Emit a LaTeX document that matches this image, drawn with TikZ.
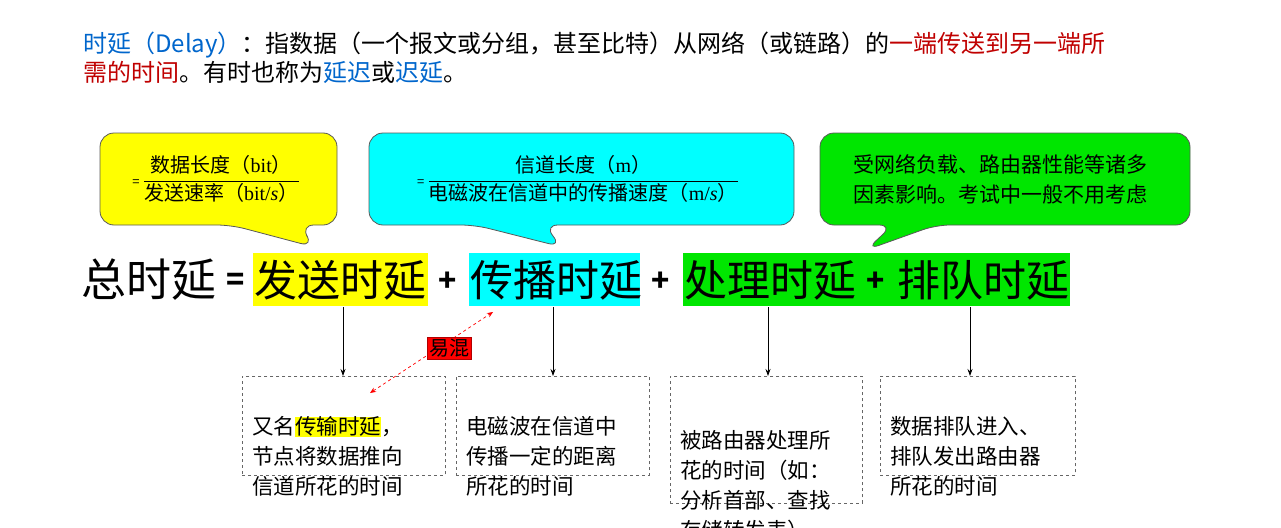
\documentclass[tikz,border=0pt]{standalone}
\usepackage{fontspec}
\setmainfont{Noto Sans CJK SC}
\newfontfamily\serifc{Liberation Serif}
\usetikzlibrary{arrows.meta}
\definecolor{tblue}{RGB}{0,102,204}
\definecolor{tred}{RGB}{192,0,0}
\definecolor{cyanb}{RGB}{0,255,255}
\definecolor{greenb}{RGB}{0,230,0}
\definecolor{yellowb}{RGB}{255,255,0}
\begin{document}
\begin{tikzpicture}[x=1pt,y=-1pt,
  callout/.style={draw=gray!70!black, line width=0.8pt, rounded corners=14pt},
  big/.style={font=\fontsize{43}{46}\selectfont, inner sep=0pt, anchor=west},
  op/.style={font=\fontsize{30}{34}\selectfont\bfseries, inner sep=0pt},
  desc/.style={draw=gray!80!black, dashed, line width=0.7pt, align=left, anchor=north west, font=\fontsize{21.5}{30}\selectfont, inner xsep=10pt, inner ysep=5pt, text depth=0pt},
  arr/.style={-{Stealth[length=7pt,width=5pt]}, line width=0.8pt}]
\useasboundingbox (0,0) rectangle (1281,527);
\fill[white] (0,0) rectangle (1281,527);
% title
\node[anchor=west, inner sep=0pt, font=\fontsize{24}{29}\selectfont, align=left] (title) at (83,58)
 {\textcolor{tblue}{时延（Delay）}：指数据（一个报文或分组，甚至比特）从网络（或链路）的\textcolor{tred}{一端传送到另一端所}\\
  \textcolor{tred}{需的时间}。有时也称为\textcolor{tblue}{延迟}或\textcolor{tblue}{迟延}。};
% callouts
\draw[callout, fill=yellowb] (231,225) -- (314,247) -- (300,225) -- (337,225) -- (337,133) -- (100,133) -- (100,225) -- cycle;
\node[inner sep=0pt, font=\fontsize{20}{22}\selectfont] (cy) at (216,179)
 {{\fontsize{13}{15}\selectfont=}\,$\displaystyle\frac{\mbox{数据长度（{\serifc bit}）}}{\mbox{发送速率（{\serifc bit/\textit{s}}）}}$};
\draw[callout, fill=cyanb] (475,225) -- (562,247) -- (544,225) -- (794,225) -- (794,133) -- (369,133) -- (369,225) -- cycle;
\node[inner sep=0pt, font=\fontsize{20}{22}\selectfont] (cc) at (578,179)
 {{\fontsize{13}{15}\selectfont=}\,$\displaystyle\frac{\mbox{信道长度（{\serifc m}）}}{\mbox{电磁波在信道中的传播速度（{\serifc m/\textit{s}}）}}$};
\draw[callout, fill=greenb] (893,225) -- (866,250) -- (936,225) -- (1190,225) -- (1190,133) -- (820,133) -- (820,225) -- cycle;
\node[inner sep=0pt, align=left, font=\fontsize{21}{30}\selectfont] (cg) at (1000,179)
 {受网络负载、路由器性能等诸多\\因素影响。考试中一般不用考虑};
% main formula
\fill[yellowb] (253,253) rectangle (428,306);
\fill[cyanb] (469,253) rectangle (640,306);
\fill[greenb] (683,253) rectangle (1070,306);
\node[big, font=\fontsize{45}{48}\selectfont] (tot) at (81,280) {总时延};
\node[op] (eq) at (236,282) {=};
\node[big] (fs) at (254,280) {发送时延};
\node[op] (p1) at (448,282) {+};
\node[big] (cb) at (470,280) {传播时延};
\node[op] (p2) at (661,282) {+};
\node[big] (cl) at (684,280) {处理时延};
\node[op] (p3) at (876,282) {+};
\node[big] (pd) at (897,280) {排队时延};
% description boxes
\node[desc, text width=183pt, minimum height=99pt] (d1) at (242,376)
 {又名{\setlength{\fboxsep}{0pt}\colorbox{yellowb}{传输时延}}，\\节点将数据推向\\信道所花的时间};
\node[desc, text width=173pt, minimum height=99pt] (d2) at (456,376)
 {电磁波在信道中\\传播一定的距离\\所花的时间};
\node[desc, text width=172pt, minimum height=127pt] (d3) at (670,376)
 {被路由器处理所\\花的时间（如：\\分析首部、查找\\存储转发表）};
\node[desc, text width=175pt, minimum height=99pt] (d4) at (880,376)
 {数据排队进入、\\排队发出路由器\\所花的时间};
% arrows
\coordinate (a1) at (343,307); \coordinate (a2) at (553,307);
\coordinate (a3) at (768,307); \coordinate (a4) at (970,307);
\draw[arr] (a1) -- (a1 |- d1.north);
\draw[arr] (a2) -- (a2 |- d2.north);
\draw[arr] (a3) -- (a3 |- d3.north);
\draw[arr] (a4) -- (a4 |- d4.north);
% confusing
\coordinate (m1) at (370,393); \coordinate (m2) at (493,312);
\draw[red, dashed, line width=0.7pt, {Stealth[length=6pt,width=5pt]}-{Stealth[length=6pt,width=5pt]}] (m1) -- (m2);
\node[fill=red, draw=red!70!black, inner sep=2pt, font=\fontsize{20}{22}\selectfont] (yh) at (449,348) {易混};
\end{tikzpicture}
\end{document}
